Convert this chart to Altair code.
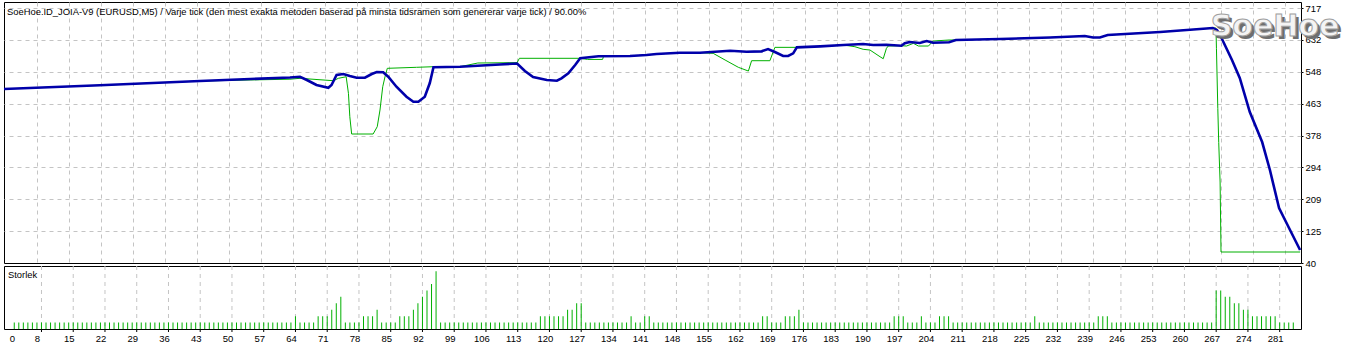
import altair as alt
import pandas as pd

TITLE = ("SoeHoe.ID_JOIA-V9 (EURUSD,M5) / Varje tick (den mest exakta metoden "
         "baserad på minsta tidsramen som genererar varje tick) / 90.00%")
LOGO = "SoeHoe"
SUB_TITLE = "Storlek"

# Balance curve (blue): trade position, value
bal_trade = [0.84, 21.8, 43.7, 54.7, 63.4, 65.6, 67.1, 69.2, 71.8, 72.5, 73.6, 75.1,
             76.5, 78.0, 79.8, 81.3, 82.4, 83.8, 84.9, 86.7, 88.9, 90.4, 91.5, 92.9,
             94.0, 94.8, 100.6, 109.3, 113.1, 114.8, 116.6, 119.6, 121.8, 122.8, 124.3,
             125.8, 126.9, 130.9, 137.8, 141.4, 143.6, 148.7, 153.1, 159.7, 163.3, 166.6,
             168.0, 169.5, 171.3, 172.4, 173.5, 174.3, 179.4, 184.5, 188.8, 191.0, 193.9,
             197.2, 197.9, 199.0, 201.2, 202.7, 204.1, 207.6, 209.1, 218.7, 229.7, 237.3,
             239.1, 240.6, 242.3, 253.8, 262.5, 265.3, 266.2, 266.9, 269.5, 271.2, 273.4,
             276.1, 277.8, 279.8, 282.2, 284.4]
bal_value = [502, 511.8, 523.2, 528.5, 532.5, 534.6, 525.8, 512.6, 505.4, 512.6, 539.1, 541.8,
             536.5, 532, 532, 541.8, 547, 546.3, 534.6, 508, 481.5, 468.2, 468.2, 481.5,
             517.9, 559.6, 561.2, 567, 569.7, 549.7, 533.8, 525.8, 524, 530.4, 543.6,
             565.7, 583.5, 588.8, 589.6, 592.2, 594.9, 598.3, 598.3, 603.6, 601, 602,
             608.1, 600.2, 589.6, 589.6, 596.7, 612.6, 615.3, 618.8, 621.4, 618.8, 619.6,
             616.9, 623.3, 626.7, 624.1, 629.4, 624.9, 626, 632.1, 634.7, 638.7, 642.7,
             638.7, 638.7, 645.3, 653.3, 661.3, 663.9, 658.6, 645.3, 579, 531.2, 440.9,
             361.2, 286.9, 186, 127.6, 74.5]

# Equity curve (green)
eq_trade = [0.84, 21.8, 43.7, 54.7, 63.4, 65.6, 72.9, 74.0, 75.7, 76.2, 76.5, 76.9, 81.6,
            82.5, 83.1, 83.7, 84.2, 84.7, 91.1, 94.8, 100.6, 104.5, 113.1, 113.6, 126.9,
            128.5, 131.8, 132.0, 137.8, 141.4, 143.6, 148.7, 153.1, 156.0, 158.6, 161.5,
            163.7, 164.4, 168.4, 169.5, 174.3, 179.4, 184.5, 187.0, 188.8, 190.3, 192.5,
            193.2, 193.9, 194.3, 197.2, 198.3, 199.8, 200.9, 203.1, 204.1, 207.6, 209.1,
            218.7, 229.7, 237.3, 239.1, 240.6, 242.3, 253.8, 262.5, 265.3, 266.0, 266.1,
            266.4, 266.6, 266.9, 267.1, 284.4]
eq_value = [502, 511.8, 523.2, 526, 528, 530.4, 524, 530.4, 534.6, 490.5, 428.4, 382.5, 382.5,
            401.9, 446.2, 508, 534.6, 556.9, 559.6, 561.2, 561.2, 571, 572, 583.5, 583.5,
            580.5, 580.5, 588.8, 589.6, 592.2, 594.9, 598.3, 598.3, 596.7, 579, 559.6,
            549.7, 577.1, 577.1, 612.6, 612.6, 615.3, 618.8, 614.3, 607.4, 605.5, 587.7,
            582.4, 610, 616.1, 616.9, 616.1, 623.3, 616.1, 616.1, 629.4, 632.1, 632.1,
            634.7, 638.7, 642.7, 638.7, 638.7, 645.3, 653.3, 661.3, 663.9, 663.9, 610,
            450, 360, 255, 69.2, 69.2]

# Lot size per trade, trades 2..284
lot_trade = list(range(2, 285))
lot_size = [
    1, 1, 1, 1, 1, 1, 1, 1, 1, 1, 1, 1, 1, 1, 1, 1, 1, 1, 1, 1,   # 2-21
    1, 1, 1, 1, 1, 1, 1, 1, 1, 1, 1, 1, 1, 1, 1, 1, 1, 1, 1, 1,   # 22-41
    1, 1, 1, 1, 1, 1, 1, 1, 1, 1, 1, 1, 1, 1, 1, 1, 1, 1, 1, 1,   # 42-61
    1, 1, 2, 1, 1, 1, 1, 2, 2, 2, 3, 4, 5, 1, 1, 1, 1, 2, 2, 2,   # 62-81
    3, 1, 1, 1, 1, 2, 2, 2, 3, 4, 5, 6, 7, 9, 1, 1, 1, 1, 1, 1,   # 82-101
    1, 1, 1, 1, 1, 1, 1, 1, 1, 1, 1, 1, 1, 1, 1, 1, 2, 2, 2, 2,   # 102-121
    2, 2, 3, 3, 4, 4, 1, 1, 1, 1, 1, 1, 1, 1, 1, 1, 2, 1, 1, 2,   # 122-141
    2, 1, 1, 1, 1, 1, 1, 1, 1, 1, 1, 1, 1, 1, 1, 1, 1, 1, 1, 1,   # 142-161
    1, 1, 1, 1, 1, 2, 2, 1, 1, 1, 2, 2, 2, 3, 1, 1, 1, 1, 1, 1,   # 162-181
    1, 1, 1, 1, 1, 1, 1, 1, 1, 1, 1, 1, 1, 1, 2, 2, 2, 1, 1, 1,   # 182-201
    2, 1, 1, 1, 2, 2, 2, 1, 1, 1, 1, 1, 1, 1, 1, 1, 1, 1, 1, 1,   # 202-221
    1, 1, 1, 1, 1, 2, 1, 1, 1, 1, 1, 1, 1, 1, 1, 1, 1, 1, 1, 2,   # 222-241
    2, 2, 1, 1, 1, 1, 1, 1, 1, 1, 1, 1, 1, 1, 1, 1, 1, 1, 1, 1,   # 242-261
    1, 1, 1, 1, 1, 6, 6, 5, 5, 4, 4, 3, 3, 2, 2, 2, 2, 2, 2, 1,   # 262-281
    1, 1, 1,                                                       # 282-284
]

# Vertical grid positions (trade numbers) and the x-axis labels
x_grid_values = [8, 15, 22, 29, 36, 43, 50, 57, 64, 71, 78, 85, 92, 99, 106, 113, 120,
                 127, 134, 141, 148, 155, 162, 169, 176, 183, 190, 197, 204, 211, 218, 225,
                 232, 239, 246, 253, 260, 267, 274, 281]
x_tick_labels = ["0", "8", "15", "22", "29", "36", "43", "50", "57", "64", "71", "78", "85",
                 "92", "99", "106", "113", "120", "127", "134", "141", "148", "155", "162",
                 "169", "176", "183", "190", "197", "204", "211", "218", "225", "232", "239",
                 "246", "253", "260", "267", "274", "281"]
# MT4 draws each label just left of its grid line; "0" sits at the left edge
x_label_pos = [1.5] + [v - 1 for v in x_grid_values]

y_tick_values = [40, 124.625, 209.25, 293.875, 378.5, 463.125, 547.75, 632.375, 717]
y_tick_labels = ["40", "125", "209", "294", "378", "463", "548", "632", "717"]

FONT = "Liberation Sans"
BLUE = "#0000aa"
GREEN = "#00b000"
GRID = "#c4c4c4"
W = 1297
SUB_H = 63

bal_df = pd.DataFrame({"trade": bal_trade, "value": bal_value, "seq": range(len(bal_trade))})
eq_df = pd.DataFrame({"trade": eq_trade, "value": eq_value, "seq": range(len(eq_trade))})
lot_df = pd.DataFrame({"trade": lot_trade, "lot": lot_size})
grid_df = pd.DataFrame({"trade": x_grid_values})


def label_expr(vals, labs):
    v = "[" + ",".join(repr(float(x)) for x in vals) + "]"
    l = "[" + ",".join("'" + s + "'" for s in labs) + "]"
    return f"{l}[indexof({v}, datum.value)]"


xscale = alt.Scale(domain=[0.84, 284.6], nice=False, zero=False)
yscale = alt.Scale(domain=[40, 733], nice=False, zero=False)

x_main = alt.X("trade:Q", scale=xscale,
               axis=alt.Axis(values=x_grid_values, labels=False, ticks=False, domain=False,
                             title=None, grid=True, gridColor=GRID, gridDash=[4, 4],
                             minExtent=0, maxExtent=0, offset=0))
y_main = alt.Y("value:Q", scale=yscale,
               axis=alt.Axis(orient="right", values=y_tick_values,
                             labelExpr=label_expr(y_tick_values, y_tick_labels),
                             title=None, grid=True, gridColor=GRID, gridDash=[4, 4],
                             gridOpacity={"condition": {"test": "datum.value < 50", "value": 0},
                                          "value": 1},
                             domain=False, ticks=True, tickSize=2, tickColor="black",
                             labelPadding=2, labelFont=FONT, labelFontSize=9.5,
                             labelColor="black", labelOverlap=False))

eq_line = alt.Chart(eq_df).mark_line(color=GREEN, strokeWidth=1).encode(
    x=x_main, y=y_main, order="seq:Q")
bal_line = alt.Chart(bal_df).mark_line(color=BLUE, strokeWidth=2.6).encode(
    x=x_main, y=y_main, order="seq:Q")

title_txt = alt.Chart(pd.DataFrame({"t": [TITLE]})).mark_text(
    align="left", baseline="middle", font=FONT, fontSize=9.4, color="black").encode(
    x=alt.value(3), y=alt.value(10), text="t:N")

logo_shadow = alt.Chart(pd.DataFrame({"t": [LOGO]})).mark_text(
    align="center", baseline="middle", font="DejaVu Sans", fontWeight="bold", fontSize=30,
    color="#6e6e6e").encode(x=alt.value(1274), y=alt.value(28), text="t:N")
logo_front = alt.Chart(pd.DataFrame({"t": [LOGO]})).mark_text(
    align="center", baseline="middle", font="DejaVu Sans", fontWeight="bold", fontSize=30,
    color="#f4f4f4", stroke="#a0a0a0", strokeWidth=1).encode(
    x=alt.value(1271), y=alt.value(25), text="t:N")

main = alt.layer(eq_line, bal_line, title_txt, logo_shadow, logo_front).properties(
    width=W, height=261)

# one shared axis definition for every layer of the lower panel
x_sub = alt.X("trade:Q", scale=xscale,
              axis=alt.Axis(values=x_label_pos,
                            labelExpr=label_expr(x_label_pos, x_tick_labels),
                            title=None, grid=False, domain=False, ticks=False,
                            labelAlign="center", labelPadding=4,
                            labelFont=FONT, labelFontSize=9.5, labelColor="black",
                            labelOverlap=False, labelFlush=False, labelBound=False))

sub_grid = alt.Chart(grid_df).mark_rule(color=GRID, strokeWidth=1, strokeDash=[4, 4]).encode(
    x=x_sub, y=alt.value(0), y2=alt.value(SUB_H))
sub_ticks = alt.Chart(grid_df).mark_rule(color="black", strokeWidth=1).encode(
    x=x_sub, y=alt.value(SUB_H), y2=alt.value(SUB_H + 3))

bars = alt.Chart(lot_df).mark_bar(color=GREEN, width=1).encode(
    x=x_sub,
    y=alt.Y("lot:Q", scale=alt.Scale(domain=[0, 9.8], nice=False), axis=None))

sub_txt = alt.Chart(pd.DataFrame({"t": [SUB_TITLE]})).mark_text(
    align="left", baseline="middle", font=FONT, fontSize=9.4, color="black").encode(
    x=alt.value(4), y=alt.value(9), text="t:N")

sub = alt.layer(sub_grid, sub_ticks, bars, sub_txt).properties(width=W, height=SUB_H)

chart = alt.vconcat(main, sub, spacing=3, bounds="flush").properties(
    padding={"left": -2, "top": 1, "right": 0, "bottom": 0},
    background="white",
).configure_view(stroke="black", strokeWidth=1)

chart.save("out.html", embed_options={"renderer": "svg", "actions": False})
